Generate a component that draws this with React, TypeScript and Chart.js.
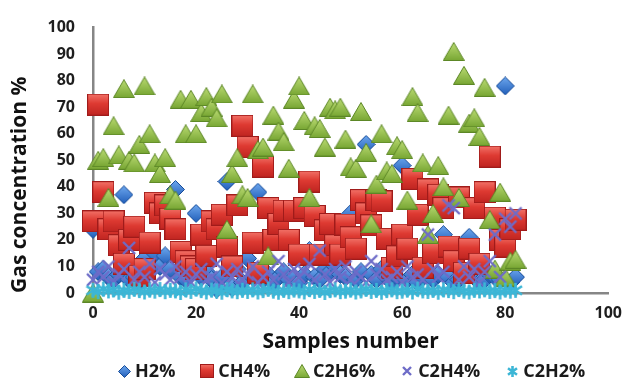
import React, { useEffect, useRef } from "react";
import { Chart, registerables } from "chart.js";

Chart.register(...registerables);

const FONT = '"Open Sans", "DejaVu Sans", sans-serif';

const sampleNumbers = [
  0, 1, 2, 3, 4, 5, 6, 7, 8, 9, 10, 11, 12, 13, 14, 15, 16, 17, 18, 19, 20,
  21, 22, 23, 24, 25, 26, 27, 28, 29, 30, 31, 32, 33, 34, 35, 36, 37, 38, 39,
  40, 41, 42, 43, 44, 45, 46, 47, 48, 49, 50, 51, 52, 53, 54, 55, 56, 57, 58,
  59, 60, 61, 62, 63, 64, 65, 66, 67, 68, 69, 70, 71, 72, 73, 74, 75, 76, 77,
  78, 79, 80, 81, 82,
];

const seriesNames = ["H2%", "CH4%", "C2H6%", "C2H4%", "C2H2%"];

const h2Values = [
  24, 8, 9, 6, 5, 7, 37, 5, 6, 4,
  13, 8, 15, 10, 14, 9, 39, 6, 5, 8,
  30, 6, 8, 5, 1.5, 6, 42, 2, 9, 4,
  13, 6, 38, 5, 7, 4, 6, 8, 5, 6,
  4, 7, 16, 6, 5, 9, 8, 10, 7, 6,
  30, 5, 8, 56, 7, 5, 9, 6, 4, 6,
  48, 5, 7, 4, 6, 8, 5, 7, 22, 6,
  4, 5, 7, 21, 6, 4, 5, 7, 6, 5,
  78, 4, 6,
];

const ch4Values = [
  27, 71, 38, 24, 27, 18, 11, 20, 25, 6.5,
  9, 19, 34, 30, 33, 28, 24, 15.5, 12, 10,
  9, 22, 14, 27, 24, 29.5, 17.5, 10, 33, 63,
  55, 19, 7.6, 47.6, 32, 20, 26, 31, 20, 31,
  14.5, 32, 42, 29, 14.5, 23.6, 26, 18, 14.5, 25.8,
  21, 16.7, 35, 30, 25.5, 35, 34.5, 20.4, 9.5, 13.8,
  22, 16.7, 43, 29.5, 9.5, 39, 15, 37, 32, 17.5,
  12, 36, 7.6, 16.7, 32, 11, 38, 51.4, 28.4, 20,
  17.5, 24, 27.6,
];

const c2h6Values = [
  0, 50, 51, 36, 63, 52, 77, 50, 49, 56,
  78, 60, 49, 45, 51, 37, 35, 73, 60, 73,
  60, 68, 74, 70, 66, 75, 24, 45, 51, 37,
  36, 75, 54, 55, 14, 67, 61, 57, 47, 73,
  78, 65, 36, 63, 62, 55, 70, 69, 70, 58,
  47.5, 47, 68.4, 53, 26, 41, 60, 46, 45, 55.5,
  54, 35, 74, 68, 49, 22, 30, 48, 40, 67,
  91, 36, 82, 64, 66, 59, 77.5, 27.6, 9, 38,
  6, 12, 12.7,
];

const c2h4Values = [
  5, 8, 6, 10, 4, 7, 9, 17, 5, 8,
  6, 11, 4, 9, 7, 5, 10, 6, 8, 4,
  7, 9, 5, 6, 11, 4, 8, 6, 9, 5,
  7, 10, 4, 6, 8, 5, 12, 7, 4, 9,
  6, 8, 11, 5, 16, 7, 4, 9, 6, 10,
  5, 8, 6, 4, 12, 7, 9, 5, 6, 8,
  4, 10, 6, 7, 5, 22, 9, 6, 8, 33,
  32, 5, 10, 6, 9, 4, 8, 12, 22, 6,
  28, 25, 30,
];

const c2h2Values = [
  1, 0.5, 1.5, 0.8, 1.2, 0.3, 1, 0.6, 1.4, 0.9,
  0.4, 1.1, 0.7, 1.3, 0.5, 1, 0.8, 0.2, 1.2, 0.6,
  1.5, 0.9, 0.4, 1.1, 0.7, 0.3, 1.3, 0.8, 0.5, 1,
  0.6, 1.2, 0.4, 0.9, 1.4, 0.7, 0.3, 1, 0.5, 1.1,
  0.8, 0.4, 1.3, 0.6, 1, 0.2, 0.9, 1.2, 0.5, 0.7,
  1.1, 0.4, 0.8, 1.4, 0.6, 1, 0.3, 0.9, 1.2, 0.5,
  0.7, 1.1, 0.4, 1.5, 0.8, 0.6, 1, 0.3, 1.2, 0.9,
  0.5, 1.3, 0.7, 0.4, 1, 0.8, 1.2, 0.6, 0.9, 0.4,
  1.1, 0.7, 1,
];

const xAxisRange = [0, 100];
const yAxisRange = [0, 100];
const xTickStep = 20;
const yTickStep = 10;

type MarkerKind = "diamond" | "square" | "triangle" | "cross" | "star";

function makeMarker(kind: MarkerKind, size: number): HTMLCanvasElement {
  const c = document.createElement("canvas");
  const w = size;
  const h = kind === "triangle" ? Math.round(size * 0.87) : size;
  c.width = w;
  c.height = h;
  const g = c.getContext("2d") as CanvasRenderingContext2D;
  if (kind === "square") {
    const gr = g.createLinearGradient(0, 0, 0, h);
    gr.addColorStop(0, "#F3746A");
    gr.addColorStop(0.45, "#DE3A32");
    gr.addColorStop(1, "#BE2420");
    g.fillStyle = gr;
    g.fillRect(0.5, 0.5, w - 1, h - 1);
    g.strokeStyle = "#A01B1A";
    g.lineWidth = 1;
    g.strokeRect(0.5, 0.5, w - 1, h - 1);
  } else if (kind === "triangle") {
    const gr = g.createLinearGradient(0, 0, 0, h);
    gr.addColorStop(0, "#BCDC74");
    gr.addColorStop(1, "#76A532");
    g.beginPath();
    g.moveTo(w / 2, 0.5);
    g.lineTo(w - 0.5, h - 0.5);
    g.lineTo(0.5, h - 0.5);
    g.closePath();
    g.fillStyle = gr;
    g.fill();
    g.strokeStyle = "#5C8726";
    g.lineWidth = 1;
    g.stroke();
  } else if (kind === "diamond") {
    const gr = g.createLinearGradient(0, 0, 0, h);
    gr.addColorStop(0, "#6FA9EF");
    gr.addColorStop(1, "#1F5CB8");
    g.beginPath();
    g.moveTo(w / 2, 0.5);
    g.lineTo(w - 0.5, h / 2);
    g.lineTo(w / 2, h - 0.5);
    g.lineTo(0.5, h / 2);
    g.closePath();
    g.fillStyle = gr;
    g.fill();
    g.strokeStyle = "#184C98";
    g.lineWidth = 1;
    g.stroke();
  } else if (kind === "cross") {
    g.strokeStyle = "#6E6CC8";
    g.lineWidth = 2.4;
    g.beginPath();
    g.moveTo(2, 2);
    g.lineTo(w - 2, h - 2);
    g.moveTo(w - 2, 2);
    g.lineTo(2, h - 2);
    g.stroke();
  } else {
    g.strokeStyle = "#3CB6D6";
    g.lineWidth = 2.6;
    g.beginPath();
    g.moveTo(w / 2, 1);
    g.lineTo(w / 2, h - 1);
    g.moveTo(2, h * 0.25);
    g.lineTo(w - 2, h * 0.75);
    g.moveTo(w - 2, h * 0.25);
    g.lineTo(2, h * 0.75);
    g.stroke();
  }
  return c;
}

const legendPlugin = {
  id: "customLegend",
  afterDraw(chart: any, _args: any, opts: any) {
    const ctx: CanvasRenderingContext2D = chart.ctx;
    const area = chart.chartArea;
    const markers: HTMLCanvasElement[] = opts.markers || [];
    ctx.save();
    ctx.font = `bold 18px ${FONT}`;
    ctx.textBaseline = "middle";
    ctx.textAlign = "left";
    ctx.fillStyle = "#1a1a1a";
    const slot = 16;
    const gap = 3;
    const spacing = 24;
    const items = chart.data.datasets.map((ds: any, i: number) => ({
      label: ds.label as string,
      marker: markers[i],
      w: ctx.measureText(ds.label).width,
    }));
    const total =
      items.reduce((a: number, it: any) => a + slot + gap + it.w, 0) +
      spacing * (items.length - 1);
    let x = (area.left + area.right) / 2 - total / 2;
    const y = 371;
    items.forEach((it: any) => {
      if (it.marker) {
        ctx.drawImage(
          it.marker,
          Math.round(x + slot / 2 - it.marker.width / 2),
          Math.round(y - it.marker.height / 2)
        );
      }
      ctx.fillText(it.label, x + slot + gap, y + 1);
      x += slot + gap + it.w + spacing;
    });
    ctx.restore();
  },
};

export default function App() {
  const canvasRef = useRef<HTMLCanvasElement | null>(null);

  useEffect(() => {
    if (!canvasRef.current) return;
    const kinds: MarkerKind[] = ["diamond", "square", "triangle", "cross", "star"];
    const plotSizes = [19, 22, 22, 16, 17];
    const legendSizes = [13, 14, 16, 12, 13];
    const plotMarkers = kinds.map((k, i) => makeMarker(k, plotSizes[i]));
    const legendMarkers = kinds.map((k, i) => makeMarker(k, legendSizes[i]));
    const allValues = [h2Values, ch4Values, c2h6Values, c2h4Values, c2h2Values];

    const datasets = allValues.map((vals, i) => ({
      label: seriesNames[i],
      data: sampleNumbers.map((s, j) => ({ x: s, y: vals[j] })),
      pointStyle: plotMarkers[i],
      pointRadius: 8,
      showLine: false,
      clip: false as any,
      order: 5 - i,
    }));

    const axisTickFont = { family: FONT, size: 16, weight: "bold" as const };
    const titleFont = { family: FONT, size: 21, weight: "bold" as const };

    const chart = new Chart(canvasRef.current, {
      type: "scatter",
      data: { datasets },
      plugins: [legendPlugin],
      options: {
        animation: false,
        responsive: false,
        devicePixelRatio: 1,
        layout: { padding: { top: 18, right: 20, left: 0, bottom: 0 } },
        plugins: {
          legend: { display: false },
          tooltip: { enabled: false },
          customLegend: { markers: legendMarkers },
        } as any,
        scales: {
          x: {
            type: "linear",
            min: xAxisRange[0],
            max: xAxisRange[1],
            ticks: {
              stepSize: xTickStep,
              font: axisTickFont,
              color: "#1e1e1e",
              padding: 11,
              maxRotation: 0,
            },
            grid: { display: false, drawTicks: false },
            border: { display: true, color: "#868686", width: 2.5 },
            title: {
              display: true,
              text: "Samples number",
              font: titleFont,
              color: "#111",
              padding: { top: 0, bottom: 30 },
            },
            afterFit: (s: any) => {
              s.height = 92;
            },
          },
          y: {
            type: "linear",
            min: yAxisRange[0],
            max: yAxisRange[1],
            ticks: {
              stepSize: yTickStep,
              font: axisTickFont,
              color: "#1e1e1e",
              padding: 18,
            },
            grid: { display: false, drawTicks: false },
            border: { display: true, color: "#868686", width: 2.5 },
            title: {
              display: true,
              text: "Gas concentration %",
              align: "start",
              font: titleFont,
              color: "#111",
              padding: { top: 7, bottom: 0 },
            },
            afterFit: (s: any) => {
              s.width = 93;
            },
          },
        },
      } as any,
    });
    return () => chart.destroy();
  }, []);

  return (
    <div style={{ position: "absolute", left: 0, top: 0, width: 633, height: 385, background: "#fff" }}>
      <canvas ref={canvasRef} width={633} height={385} style={{ display: "block" }} />
    </div>
  );
}
